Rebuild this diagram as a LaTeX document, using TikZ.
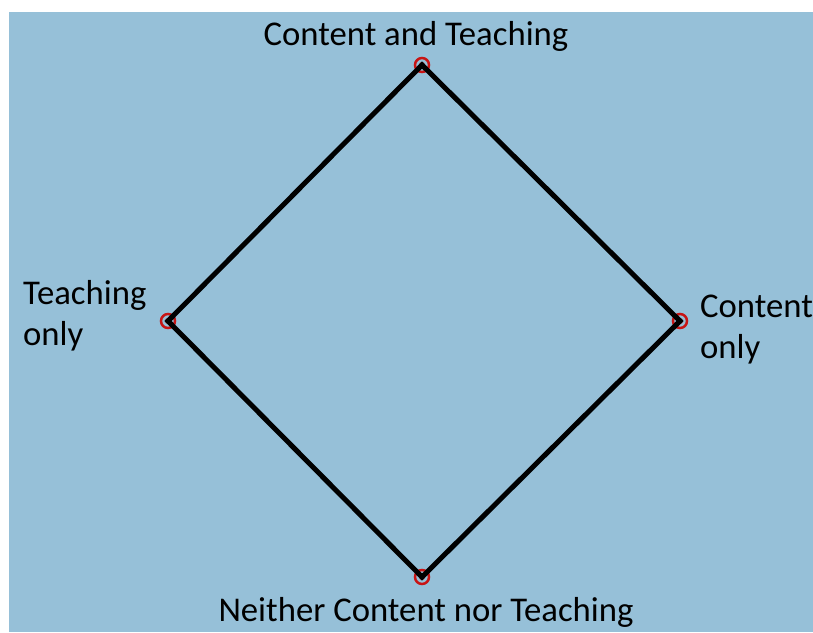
\documentclass[tikz,border=0pt]{standalone}
\usepackage{fontspec}
\setmainfont{Carlito}
\definecolor{bgblue}{RGB}{150,192,216}
\definecolor{markred}{RGB}{200,20,20}
\tikzset{
  lab/.style={inner sep=0pt, font=\fontsize{34.7}{40.5}\selectfont, text=black},
  marker/.style={circle, draw=markred, line width=2.5pt, minimum size=14pt, inner sep=0pt},
  edge/.style={draw=black, line width=5pt}
}
\begin{document}
\begin{tikzpicture}[x=1pt,y=-1pt]
\useasboundingbox (0,0) rectangle (813,632);
\fill[bgblue] (9,12) rectangle (813,632);
\node[marker] (t) at (422,65) {};
\node[marker] (l) at (168,321) {};
\node[marker] (r) at (680,321) {};
\node[marker] (b) at (422,577) {};
\fill[markred] (t.center) circle (3pt) (l.center) circle (3pt) (r.center) circle (3pt) (b.center) circle (3pt);
\draw[edge] (t.center) -- (r.center) -- (b.center) -- (l.center) -- cycle;
\node[lab, anchor=base] (tt) at (416,45) {Content and Teaching};
\node[lab, anchor=base west, align=left] (lt) at (23,345) {Teaching\\only};
\node[lab, anchor=base west, align=left] (rt) at (700,358) {Content\\only};
\node[lab, anchor=base] (bt) at (426,621) {Neither Content nor Teaching};
\end{tikzpicture}
\end{document}
